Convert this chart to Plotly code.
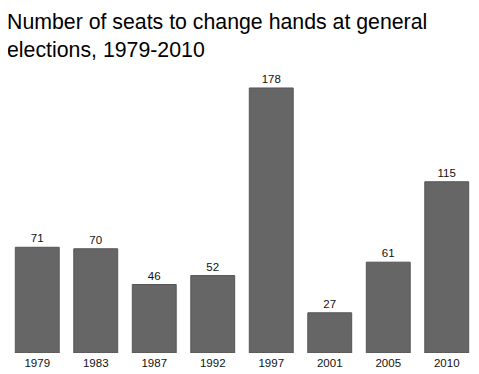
import plotly.graph_objects as go

years = ["1979", "1983", "1987", "1992", "1997", "2001", "2005", "2010"]
seats = [71, 70, 46, 52, 178, 27, 61, 115]
title_lines = ["Number of seats to change hands at general", "elections, 1979-2010"]

W, H = 471, 366
L, R, T, B = 0, 3, 77, 21
ph = H - T - B

fig = go.Figure(go.Bar(
    x=years, y=seats,
    marker=dict(color="#666666", line=dict(color="#555555", width=1)),
    text=[str(v) for v in seats], textposition="outside",
    textfont=dict(size=11.5, color="#111111", family="Liberation Sans, Arial, sans-serif"),
    cliponaxis=False, width=0.75,
))

fig.update_layout(
    width=W, height=H,
    margin=dict(l=L, r=R, t=T, b=B, autoexpand=False),
    paper_bgcolor="white", plot_bgcolor="white",
    font=dict(family="Liberation Sans, Arial, sans-serif", color="#111111"),
    showlegend=False, bargap=0.25,
    xaxis=dict(showgrid=False, zeroline=False, showline=False, ticks="",
               automargin=False,
               tickfont=dict(size=11.5, color="#111111"), ticklabelstandoff=1),
    yaxis=dict(visible=False, range=[0, 180], automargin=False),
    annotations=[dict(text="<br>".join(title_lines), xref="paper", yref="paper",
                      x=-3 / (W - L - R), xanchor="left", y=(H - B) / ph, yanchor="top",
                      yshift=0, showarrow=False, align="left",
                      font=dict(size=21.3, color="#000000"))],
)

fig.write_html("out.html")
